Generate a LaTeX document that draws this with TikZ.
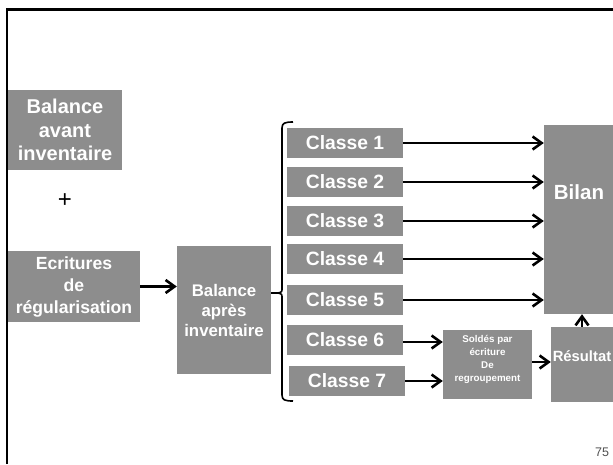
\documentclass[tikz,border=0pt]{standalone}
\usepackage{fontspec}
\setmainfont{Liberation Sans}
\usetikzlibrary{arrows.meta,calc}
\definecolor{boxgray}{RGB}{141,141,141}
\definecolor{numgray}{RGB}{80,80,80}
\tikzset{
  gbox/.style={fill=boxgray, draw=none, inner sep=0pt, text=white, align=center, font=\bfseries},
  classbox/.style={gbox, minimum width=116pt, minimum height=30pt, font=\bfseries\fontsize{19.3}{22}\selectfont},
  arr/.style={line width=2.3pt, -{Straight Barb[length=9pt,width=13pt,line width=2.6pt]}},
  plain/.style={line width=1.6pt},
}
\begin{document}
\begin{tikzpicture}[x=1pt,y=-1pt]
\useasboundingbox (0,0) rectangle (613,464);
\draw[line width=2.2pt] (7,464) -- (7,9.5) -- (613,9.5);
% left boxes
\node[gbox, minimum width=114pt, minimum height=80pt, font=\bfseries\fontsize{20}{23.5}\selectfont] (avant) at (65,130) {Balance\\avant\\inventaire};
\node[font=\fontsize{24}{26}\selectfont] (plus) at (65,201) {+};
\node[gbox, minimum width=132pt, minimum height=71pt, font=\bfseries\fontsize{17.6}{22}\selectfont] (ecr) at (74,286.5) {Ecritures\\de\\régularisation};
\node[gbox, minimum width=94pt, minimum height=128pt, font=\bfseries\fontsize{16.8}{20}\selectfont] (apres) at (224,310) {Balance\\après\\inventaire};
% classes
\node[classbox] (c1) at (345,143) {Classe 1};
\node[classbox] (c2) at (345,182) {Classe 2};
\node[classbox] (c3) at (345,221) {Classe 3};
\node[classbox] (c4) at (345,259) {Classe 4};
\node[classbox] (c5) at (345,300) {Classe 5};
\node[classbox] (c6) at (345,340) {Classe 6};
\node[classbox] (c7) at (347,381) {Classe 7};
% right boxes
\node[gbox, minimum width=69pt, minimum height=189pt] (bilan) at (578.5,219.5) {};
\node[text=white, font=\bfseries\fontsize{20.5}{24}\selectfont] (bilantxt) at (579,192) {Bilan};
\node[gbox, minimum width=89pt, minimum height=69pt] (solde) at (487.5,364.5) {};
\node[text=white, align=center, inner sep=0pt, font=\bfseries\fontsize{9.8}{13}\selectfont] (soldetxt) at (487.5,359.5) {Soldés par\\écriture\\De\\regroupement};
\node[gbox, minimum width=62pt, minimum height=75pt] (res) at (582,364.5) {};
\node[text=white, inner sep=0pt, font=\bfseries\fontsize{14.8}{17}\selectfont] (restxt) at (582,356) {Résultat};
% brace
\coordinate (bt) at (278,293);
\draw[plain] (293,122) .. controls (285,122) and (282,123) .. (282,128) -- (282,288) .. controls (282,292) .. (bt)
  .. controls (282,294) .. (282,298) -- (282,395) .. controls (282,400) and (285,401) .. (293,401);
\draw[plain] (bt -| apres.east) -- (bt);
% arrows
\draw[arr] (ecr.east) -- (ecr.east -| apres.west);
\draw[arr] (c1.east) -- (c1.east -| bilan.west);
\draw[arr] (c2.east) -- (c2.east -| bilan.west);
\draw[arr] (c3.east) -- (c3.east -| bilan.west);
\draw[arr] (c4.east) -- (c4.east -| bilan.west);
\draw[arr] (c5.east) -- (c5.east -| bilan.west);
\draw[arr] ([yshift=-2pt]c6.east) -- ([yshift=-2pt]c6.east -| solde.west);
\draw[arr] (c7.east) -- (c7.east -| solde.west);
\draw[arr] ([yshift=2.5pt]solde.east) -- ([yshift=2.5pt]solde.east -| res.west);
\draw[arr] (res.north) -- (res.north |- bilan.south);
% page number
\node[text=numgray, font=\fontsize{12.5}{14}\selectfont] (num) at (602,452) {75};
\end{tikzpicture}
\end{document}
